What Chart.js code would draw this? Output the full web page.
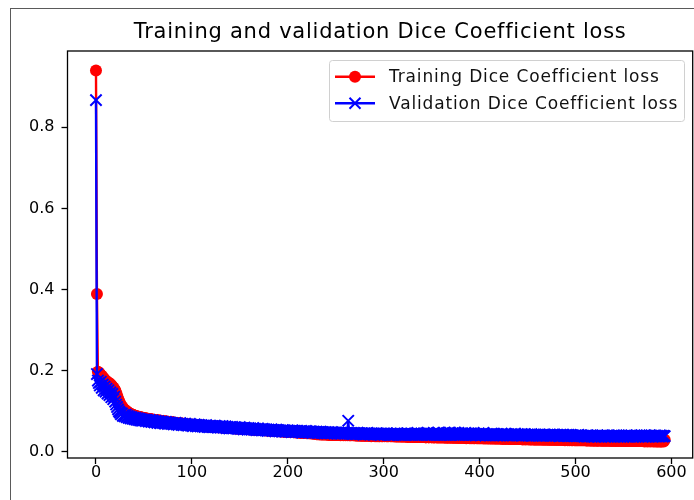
<!DOCTYPE html>
<html>
<head>
<meta charset="utf-8">
<script src="https://cdn.jsdelivr.net/npm/chart.js@4/dist/chart.umd.min.js"></script>
<style>
  html, body { margin: 0; padding: 0; background: #fff; }
  #wrap { position: relative; width: 694px; height: 500px; overflow: hidden; background: #fff; }
  #frame { position: absolute; left: 10px; top: 8px; right: -5px; bottom: -5px;
           border-left: 1px solid #5a5a5a; border-top: 1px solid #5a5a5a; }
  canvas { position: absolute; left: 0; top: 0; }
</style>
</head>
<body>
<div id="wrap"><div id="frame"></div><canvas id="c" width="694" height="500"></canvas></div>
<script>
// Dice coefficient loss per epoch
const trainLoss = [
  0.940,0.389,0.198,0.196,0.193,0.190,0.188,0.185,0.182,0.179,
  0.176,0.174,0.172,0.171,0.169,0.167,0.165,0.162,0.159,0.156,
  0.152,0.146,0.139,0.132,0.126,0.121,0.116,0.112,0.109,0.106,
  0.104,0.102,0.100,0.098,0.097,0.095,0.094,0.093,0.092,0.091,
  0.090,0.089,0.088,0.088,0.087,0.086,0.086,0.085,0.085,0.084,
  0.084,0.083,0.083,0.082,0.082,0.081,0.081,0.081,0.080,0.080,
  0.079,0.079,0.079,0.078,0.078,0.078,0.077,0.077,0.077,0.076,
  0.076,0.076,0.075,0.075,0.075,0.074,0.074,0.074,0.073,0.073,
  0.073,0.072,0.072,0.072,0.071,0.071,0.071,0.070,0.070,0.070,
  0.070,0.069,0.069,0.069,0.068,0.068,0.068,0.068,0.067,0.067,
  0.067,0.067,0.066,0.066,0.066,0.066,0.065,0.066,0.065,0.065,
  0.065,0.064,0.065,0.064,0.064,0.064,0.063,0.064,0.063,0.063,
  0.063,0.063,0.062,0.063,0.062,0.062,0.062,0.061,0.062,0.061,
  0.061,0.061,0.061,0.060,0.061,0.060,0.060,0.060,0.060,0.059,
  0.060,0.059,0.059,0.059,0.059,0.058,0.059,0.058,0.058,0.058,
  0.058,0.058,0.057,0.058,0.057,0.057,0.057,0.057,0.056,0.057,
  0.056,0.056,0.056,0.056,0.055,0.056,0.055,0.055,0.055,0.055,
  0.055,0.054,0.055,0.054,0.054,0.054,0.054,0.053,0.054,0.053,
  0.053,0.053,0.053,0.052,0.053,0.052,0.052,0.052,0.052,0.051,
  0.052,0.051,0.051,0.051,0.051,0.050,0.051,0.050,0.050,0.050,
  0.050,0.050,0.049,0.050,0.049,0.049,0.049,0.049,0.048,0.049,
  0.048,0.048,0.048,0.048,0.047,0.048,0.047,0.047,0.047,0.047,
  0.046,0.047,0.046,0.046,0.046,0.046,0.045,0.046,0.045,0.045,
  0.044,0.044,0.044,0.044,0.043,0.044,0.043,0.043,0.044,0.043,
  0.043,0.043,0.043,0.042,0.043,0.042,0.043,0.042,0.042,0.042,
  0.042,0.043,0.042,0.042,0.042,0.041,0.042,0.042,0.041,0.042,
  0.041,0.042,0.041,0.042,0.041,0.041,0.041,0.042,0.041,0.041,
  0.041,0.041,0.040,0.041,0.041,0.040,0.041,0.040,0.040,0.041,
  0.040,0.040,0.040,0.041,0.040,0.040,0.040,0.039,0.040,0.040,
  0.040,0.039,0.040,0.039,0.040,0.039,0.039,0.040,0.039,0.039,
  0.040,0.039,0.040,0.039,0.039,0.039,0.040,0.039,0.039,0.039,
  0.039,0.039,0.038,0.039,0.038,0.038,0.039,0.038,0.038,0.038,
  0.038,0.038,0.038,0.038,0.038,0.037,0.038,0.038,0.037,0.038,
  0.037,0.038,0.037,0.037,0.038,0.037,0.037,0.037,0.037,0.037,
  0.037,0.037,0.037,0.037,0.036,0.037,0.037,0.036,0.037,0.037,
  0.036,0.037,0.036,0.036,0.037,0.036,0.036,0.036,0.036,0.036,
  0.036,0.036,0.036,0.036,0.036,0.035,0.036,0.036,0.035,0.036,
  0.036,0.035,0.036,0.035,0.035,0.036,0.035,0.035,0.035,0.035,
  0.035,0.035,0.035,0.035,0.035,0.035,0.034,0.035,0.035,0.035,
  0.034,0.035,0.034,0.035,0.034,0.034,0.035,0.034,0.034,0.034,
  0.034,0.034,0.034,0.034,0.034,0.033,0.034,0.034,0.033,0.034,
  0.033,0.034,0.033,0.033,0.034,0.033,0.033,0.033,0.033,0.033,
  0.033,0.033,0.033,0.033,0.032,0.033,0.033,0.032,0.033,0.033,
  0.032,0.033,0.032,0.032,0.033,0.032,0.032,0.032,0.032,0.032,
  0.032,0.032,0.032,0.032,0.032,0.031,0.032,0.032,0.031,0.032,
  0.032,0.031,0.032,0.031,0.031,0.032,0.031,0.031,0.031,0.031,
  0.031,0.031,0.031,0.031,0.031,0.031,0.031,0.030,0.031,0.031,
  0.031,0.030,0.031,0.030,0.031,0.030,0.030,0.031,0.030,0.030,
  0.030,0.030,0.030,0.030,0.030,0.030,0.030,0.030,0.030,0.029,
  0.030,0.030,0.029,0.030,0.029,0.030,0.029,0.029,0.030,0.029,
  0.029,0.029,0.029,0.029,0.029,0.029,0.029,0.029,0.029,0.029,
  0.029,0.029,0.028,0.029,0.029,0.028,0.029,0.028,0.029,0.028,
  0.028,0.029,0.028,0.028,0.028,0.029,0.028,0.028,0.028,0.028,
  0.028,0.028,0.028,0.028,0.028,0.028,0.028,0.028,0.027,0.028,
  0.028,0.028,0.027,0.028,0.028,0.027,0.028,0.028,0.027,0.028,
  0.027,0.028,0.027,0.027,0.028,0.027,0.027,0.027,0.027,0.027,
  0.027,0.027,0.027,0.027,0.027,0.027,0.027,0.027,0.027,0.027,
  0.027,0.027,0.026,0.027,0.027,0.026,0.027,0.027,0.026,0.027,
  0.027,0.026,0.027,0.026,0.027,0.026,0.026,0.027,0.026,0.026,
  0.026,0.027,0.026,0.030
];

const valLoss = [
  0.867,0.192,0.176,0.170,0.164,0.173,0.158,0.166,0.152,0.161,
  0.149,0.156,0.144,0.152,0.140,0.147,0.135,0.143,0.130,0.136,
  0.124,0.117,0.111,0.105,0.100,0.097,0.093,0.095,0.089,0.091,
  0.088,0.092,0.086,0.089,0.084,0.087,0.083,0.086,0.082,0.084,
  0.081,0.084,0.080,0.083,0.079,0.082,0.078,0.081,0.077,0.080,
  0.078,0.080,0.076,0.079,0.077,0.075,0.079,0.076,0.074,0.078,
  0.075,0.073,0.077,0.074,0.072,0.076,0.073,0.071,0.075,0.072,
  0.074,0.071,0.070,0.074,0.072,0.069,0.073,0.070,0.072,0.069,
  0.071,0.068,0.070,0.072,0.068,0.070,0.067,0.069,0.071,0.067,
  0.069,0.066,0.068,0.070,0.066,0.068,0.065,0.067,0.069,0.065,
  0.067,0.064,0.066,0.068,0.064,0.066,0.063,0.067,0.065,0.063,
  0.066,0.063,0.065,0.062,0.064,0.066,0.062,0.064,0.061,0.065,
  0.062,0.064,0.061,0.063,0.065,0.061,0.063,0.060,0.062,0.064,
  0.060,0.062,0.064,0.060,0.061,0.063,0.059,0.062,0.060,0.058,
  0.061,0.059,0.062,0.058,0.060,0.061,0.058,0.060,0.057,0.059,
  0.061,0.057,0.059,0.058,0.056,0.060,0.057,0.058,0.055,0.059,
  0.056,0.058,0.055,0.057,0.059,0.055,0.057,0.054,0.056,0.058,
  0.054,0.056,0.055,0.053,0.057,0.054,0.056,0.053,0.055,0.052,
  0.055,0.053,0.054,0.056,0.052,0.054,0.053,0.051,0.055,0.052,
  0.054,0.051,0.053,0.052,0.050,0.054,0.051,0.053,0.050,0.052,
  0.053,0.050,0.052,0.051,0.049,0.053,0.050,0.052,0.049,0.051,
  0.052,0.049,0.051,0.050,0.052,0.048,0.050,0.051,0.049,0.052,
  0.049,0.050,0.048,0.051,0.049,0.050,0.047,0.050,0.049,0.048,
  0.050,0.047,0.049,0.048,0.050,0.047,0.049,0.048,0.046,0.049,
  0.048,0.046,0.049,0.047,0.048,0.046,0.049,0.047,0.048,0.046,
  0.048,0.047,0.045,0.048,0.046,0.047,0.045,0.048,0.046,0.047,
  0.045,0.047,0.046,0.077,0.046,0.045,0.047,0.046,0.044,0.047,
  0.045,0.046,0.044,0.047,0.045,0.046,0.044,0.046,0.045,0.043,
  0.046,0.044,0.045,0.047,0.044,0.045,0.043,0.046,0.044,0.045,
  0.043,0.045,0.044,0.046,0.043,0.045,0.044,0.042,0.045,0.044,
  0.045,0.043,0.044,0.046,0.043,0.044,0.042,0.045,0.043,0.044,
  0.042,0.045,0.043,0.044,0.046,0.042,0.044,0.043,0.045,0.042,
  0.044,0.043,0.045,0.042,0.044,0.046,0.043,0.044,0.042,0.045,
  0.043,0.044,0.042,0.045,0.043,0.047,0.042,0.044,0.043,0.045,
  0.042,0.044,0.046,0.043,0.044,0.042,0.047,0.043,0.045,0.042,
  0.044,0.043,0.047,0.042,0.044,0.046,0.043,0.048,0.042,0.044,
  0.043,0.045,0.042,0.047,0.043,0.044,0.042,0.046,0.043,0.048,
  0.042,0.044,0.046,0.043,0.048,0.042,0.045,0.043,0.047,0.042,
  0.044,0.043,0.046,0.042,0.044,0.047,0.043,0.045,0.042,0.044,
  0.043,0.046,0.042,0.044,0.043,0.045,0.041,0.044,0.042,0.046,
  0.043,0.041,0.044,0.042,0.047,0.043,0.041,0.044,0.042,0.043,
  0.041,0.044,0.042,0.043,0.041,0.045,0.042,0.043,0.041,0.044,
  0.042,0.043,0.041,0.045,0.042,0.041,0.043,0.042,0.044,0.041,
  0.043,0.041,0.042,0.044,0.041,0.043,0.042,0.045,0.041,0.042,
  0.044,0.041,0.043,0.042,0.040,0.043,0.041,0.044,0.042,0.041,
  0.043,0.040,0.042,0.041,0.044,0.040,0.042,0.041,0.043,0.040,
  0.042,0.041,0.043,0.040,0.042,0.041,0.040,0.043,0.041,0.042,
  0.040,0.042,0.041,0.043,0.040,0.041,0.042,0.040,0.043,0.041,
  0.040,0.042,0.041,0.039,0.042,0.040,0.041,0.043,0.039,0.041,
  0.040,0.042,0.039,0.041,0.040,0.042,0.039,0.041,0.040,0.039,
  0.041,0.039,0.040,0.042,0.039,0.040,0.041,0.039,0.040,0.038,
  0.040,0.039,0.041,0.038,0.040,0.039,0.041,0.038,0.040,0.039,
  0.038,0.040,0.039,0.041,0.038,0.039,0.040,0.038,0.041,0.039,
  0.040,0.038,0.039,0.041,0.038,0.040,0.039,0.038,0.040,0.039,
  0.041,0.038,0.039,0.040,0.038,0.041,0.039,0.038,0.040,0.039,
  0.038,0.040,0.039,0.041,0.038,0.039,0.040,0.038,0.041,0.039,
  0.038,0.040,0.039,0.038,0.041,0.039,0.038,0.040,0.039,0.041,
  0.038,0.039,0.041,0.038,0.040,0.039,0.038,0.041,0.039,0.040,
  0.038,0.040,0.039,0.041,0.038,0.040,0.039,0.038,0.041,0.039,
  0.040,0.038,0.040,0.039
];

const xTickValues = [0, 100, 200, 300, 400, 500, 600];
const yTickValues = [0.0, 0.2, 0.4, 0.6, 0.8];
const seriesNames = ['Training Dice Coefficient loss', 'Validation Dice Coefficient loss'];
const chartTitle = 'Training and validation Dice Coefficient loss';

const FONT = 'DejaVu Sans';
const RED = '#ff0000';
const BLUE = '#0000ff';

const toPoints = arr => arr.map((v, i) => ({ x: i, y: v }));

// Text with a little extra tracking
function spacedText(ctx, text, x, y, spacing) {
  if ('letterSpacing' in ctx) {
    ctx.letterSpacing = spacing + 'px';
    ctx.fillText(text, x, y);
    ctx.letterSpacing = '0px';
  } else {
    ctx.fillText(text, x, y);
  }
}

// Axes box on all four sides, drawn above the data
const spinesPlugin = {
  id: 'spines',
  afterDatasetsDraw(chart) {
    const { ctx, chartArea: a } = chart;
    ctx.save();
    ctx.strokeStyle = '#000';
    ctx.lineWidth = 1.3;
    ctx.strokeRect(a.left, a.top, a.right - a.left, a.bottom - a.top);
    ctx.restore();
  }
};

// Title centred over the plot area
const titlePlugin = {
  id: 'plotTitle',
  afterDraw(chart) {
    const { ctx, chartArea: a } = chart;
    ctx.save();
    ctx.fillStyle = '#000';
    ctx.font = '21px "' + FONT + '"';
    ctx.textAlign = 'center';
    ctx.textBaseline = 'middle';
    spacedText(ctx, chartTitle, (a.left + a.right) / 2, 33, 0.75);
    ctx.restore();
  }
};

function drawMarker(ctx, style, x, y, color) {
  ctx.save();
  ctx.fillStyle = color;
  ctx.strokeStyle = color;
  if (style === 'circle') {
    ctx.beginPath();
    ctx.arc(x, y, 6, 0, Math.PI * 2);
    ctx.fill();
  } else {
    const r = 5.5;
    ctx.lineWidth = 2;
    ctx.beginPath();
    ctx.moveTo(x - r, y - r); ctx.lineTo(x + r, y + r);
    ctx.moveTo(x - r, y + r); ctx.lineTo(x + r, y - r);
    ctx.stroke();
  }
  ctx.restore();
}

// Legend with line + marker samples
const legendPlugin = {
  id: 'lineLegend',
  afterDraw(chart) {
    const { ctx } = chart;
    const box = { x: 329.5, y: 60.5, w: 355, h: 61 };
    ctx.save();
    ctx.beginPath();
    ctx.roundRect(box.x, box.y, box.w, box.h, 3);
    ctx.fillStyle = 'rgba(255,255,255,0.8)';
    ctx.fill();
    ctx.strokeStyle = '#d0d0d0';
    ctx.lineWidth = 1;
    ctx.stroke();
    const items = [chart.data.datasets[0], chart.data.datasets[1]];
    items.forEach((ds, i) => {
      const cy = 76.7 + i * 26.6;
      ctx.strokeStyle = ds.borderColor;
      ctx.lineWidth = 2.4;
      ctx.beginPath();
      ctx.moveTo(335, cy);
      ctx.lineTo(375, cy);
      ctx.stroke();
      drawMarker(ctx, ds.pointStyle, 355, cy, ds.borderColor);
      ctx.fillStyle = '#111';
      ctx.font = '17px "' + FONT + '"';
      ctx.textAlign = 'left';
      ctx.textBaseline = 'middle';
      spacedText(ctx, ds.label, 389, cy + 1, 0.85);
    });
    ctx.restore();
  }
};

new Chart(document.getElementById('c'), {
  type: 'line',
  data: {
    datasets: [
      {
        label: seriesNames[0],
        data: toPoints(trainLoss),
        order: 2,
        borderColor: RED,
        backgroundColor: RED,
        borderWidth: 2.4,
        pointStyle: 'circle',
        pointRadius: 6,
        pointBorderWidth: 0,
        pointBackgroundColor: RED,
        tension: 0
      },
      {
        label: seriesNames[1],
        data: toPoints(valLoss),
        order: 1,
        borderColor: BLUE,
        backgroundColor: BLUE,
        borderWidth: 2.4,
        pointStyle: 'crossRot',
        pointRadius: 8,
        pointBorderWidth: 2,
        pointBorderColor: BLUE,
        tension: 0
      }
    ]
  },
  options: {
    responsive: false,
    animation: false,
    events: [],
    devicePixelRatio: 1,
    layout: { autoPadding: false, padding: { left: 0, right: 1.3, top: 51, bottom: 0 } },
    plugins: {
      legend: { display: false },
      tooltip: { enabled: false },
      title: { display: false }
    },
    scales: {
      x: {
        type: 'linear',
        min: -29.7,
        max: 622.2,
        afterBuildTicks: s => { s.ticks = xTickValues.map(v => ({ value: v })); },
        afterFit: s => { s.height = 42; s.paddingLeft = 0; s.paddingRight = 0; },
        grid: { display: true, drawOnChartArea: false, drawTicks: true, tickLength: 6, tickColor: '#000', tickWidth: 1.3 },
        border: { display: false },
        ticks: { color: '#000', font: { family: FONT, size: 16 }, padding: -1, maxRotation: 0 }
      },
      y: {
        type: 'linear',
        min: -0.0148,
        max: 0.988,
        afterBuildTicks: s => { s.ticks = yTickValues.map(v => ({ value: v })); },
        afterFit: s => { s.width = 67.5; s.paddingTop = 0; s.paddingBottom = 0; },
        grid: { display: true, drawOnChartArea: false, drawTicks: true, tickLength: 6, tickColor: '#000', tickWidth: 1.3 },
        border: { display: false },
        ticks: { color: '#000', font: { family: FONT, size: 16 }, padding: 7, callback: v => v.toFixed(1) }
      }
    }
  },
  plugins: [spinesPlugin, titlePlugin, legendPlugin]
});
</script>
</body>
</html>
